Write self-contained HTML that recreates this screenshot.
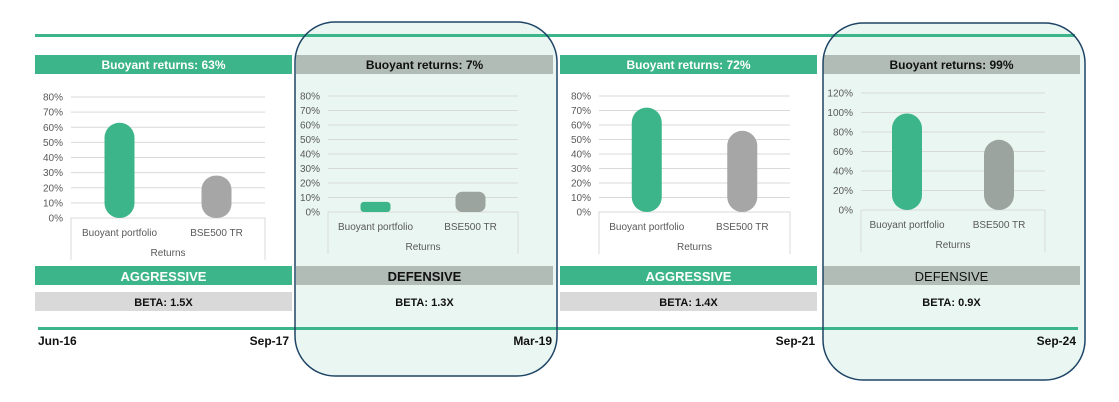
<!DOCTYPE html>
<html><head><meta charset="utf-8"><style>
html,body{margin:0;padding:0;background:#fff;}
svg{display:block;font-family:"Liberation Sans",sans-serif;}
</style></head><body>
<svg id="chart" width="1119" height="402" viewBox="0 0 1119 402" xmlns="http://www.w3.org/2000/svg">
<rect x="295" y="22" width="262" height="354" rx="40" fill="#eaf6f1" stroke="none"/>
<rect x="823" y="23" width="262" height="357" rx="40" fill="#eaf6f1" stroke="none"/>
<rect x="35" y="34" width="1040" height="3" fill="#3db58a"/>
<rect x="38" y="327" width="1040" height="3" fill="#3db58a"/>
<g id="panels"></g>
<g font-size="12" font-weight="bold" fill="#111">
<text x="38" y="345">Jun-16</text>
<text x="289" y="345" text-anchor="end">Sep-17</text>
<text x="552" y="345" text-anchor="end">Mar-19</text>
<text x="815" y="345" text-anchor="end">Sep-21</text>
<text x="1076" y="345" text-anchor="end">Sep-24</text>
</g>
<rect x="295" y="22" width="262" height="354" rx="40" fill="none" stroke="#1f4566" stroke-width="1.5"/>
<rect x="823" y="23" width="262" height="357" rx="40" fill="none" stroke="#1f4566" stroke-width="1.5"/>
</svg>
<script>
const categories = ["Buoyant portfolio", "BSE500 TR"];
const portfolioReturns = [63, 7, 72, 99];
const benchmarkReturns = [28, 14, 56, 72];
const headerLabels = ["Buoyant returns: 63%", "Buoyant returns: 7%", "Buoyant returns: 72%", "Buoyant returns: 99%"];
const styleLabels = ["AGGRESSIVE", "DEFENSIVE", "AGGRESSIVE", "DEFENSIVE"];
const betaLabels = ["BETA: 1.5X", "BETA: 1.3X", "BETA: 1.4X", "BETA: 0.9X"];
const axisMax = [80, 80, 80, 120];
const axisStep = [10, 10, 10, 20];

const layout = [
  {x:35, w:257, px0:71, px1:265, y0:218, y1:97, kind:"agg"},
  {x:296, w:257, px0:328, px1:518, y0:212, y1:96, kind:"def"},
  {x:560, w:257, px0:599, px1:790, y0:212, y1:96, kind:"agg"},
  {x:823, w:257, px0:861, px1:1045, y0:210, y1:93, kind:"def"}
];
const NS = "http://www.w3.org/2000/svg";
const root = document.getElementById("panels");
function mk(tag, attrs, parent, text){
  const e = document.createElementNS(NS, tag);
  for (const k in attrs) e.setAttribute(k, attrs[k]);
  if (text !== undefined) e.textContent = text;
  parent.appendChild(e);
  return e;
}
layout.forEach((L, i) => {
  const g = mk("g", {}, root);
  
  
  const agg = L.kind === "agg";
  const hdr = mk("rect", {x:L.x, y:55, width:L.w, height:19, fill: agg ? "#3db58a" : "#b1bcb7"}, g);
  
  
  const ht = mk("text", {x:L.x+L.w/2, y:69, "text-anchor":"middle", "font-size":"12", "font-weight":"bold", fill: agg ? "#fff" : "#111"}, g, headerLabels[i]);
  
  
  const yScale = v => L.y0 - (v / axisMax[i]) * (L.y0 - L.y1);
  for (let v = 0; v <= axisMax[i]; v += axisStep[i]) {
    const y = yScale(v);
    if (v > 0) {
      const gl = mk("line", {x1:L.px0, x2:L.px1, y1:y, y2:y, stroke:"#d9d9d9", "stroke-width":1}, g);
      
      
    }
    const tl = mk("text", {x:L.px0-8, y:y+3.5, "text-anchor":"end", "font-size":"10", fill:"#595959"}, g, v + "%");
    
    
  }
  const box = mk("path", {d:`M${L.px0},${L.y0+42} V${L.y0} H${L.px1} V${L.y0+42}`, fill:"none", stroke:"#d9d9d9"}, g);
  
  
  const band = (L.px1 - L.px0) / 2;
  const vals = [portfolioReturns[i], benchmarkReturns[i]];
  vals.forEach((v, j) => {
    const cx = L.px0 + band * (j + 0.5);
    const top = yScale(v), h = L.y0 - top;
    const r = Math.min(15, h/3);
    const color = j===0 ? "#3db58a" : (agg ? "#a6a6a6" : "#9ca49f");
    const b = mk("rect", {x:cx-15, y:top, width:30, height:h, rx:r, ry:r, fill:color}, g);
    
    
    const cl = mk("text", {x:cx, y:L.y0+18, "text-anchor":"middle", "font-size":"10", fill:"#595959"}, g, categories[j]);
    
    
  });
  const xt = mk("text", {x:(L.px0+L.px1)/2, y:L.y0+38, "text-anchor":"middle", "font-size":"10", fill:"#595959"}, g, "Returns");
  
  
  const sb = mk("rect", {x:L.x, y:266, width:L.w, height:19, fill: agg ? "#3db58a" : "#b1bcb7"}, g);
  
  
  const st = mk("text", {x:L.x+L.w/2, y:281, "text-anchor":"middle", "font-size":"13", "font-weight": i===3 ? "normal" : "bold", fill: agg ? "#fff" : "#111"}, g, styleLabels[i]);
  
  
  if (agg) {
    const bb = mk("rect", {x:L.x, y:292, width:L.w, height:19, fill:"#d9d9d9"}, g);
    
    
  }
  const bt = mk("text", {x:L.x+L.w/2, y:306, "text-anchor":"middle", "font-size":"11", "font-weight":"bold", fill:"#111"}, g, betaLabels[i]);
  
  
});
</script>
</body></html>
